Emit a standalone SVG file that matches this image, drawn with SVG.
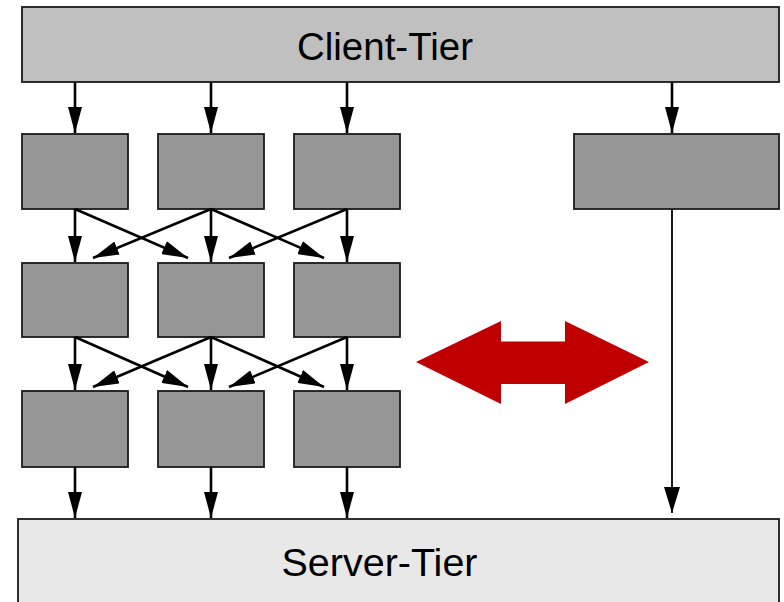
<svg xmlns="http://www.w3.org/2000/svg" width="784" height="602" viewBox="0 0 784 602">
  <style>
    .tier-client { fill: #c0c0c0; stroke: #1a1a1a; stroke-width: 1.8; }
    .tier-server { fill: #e8e8e8; stroke: #1a1a1a; stroke-width: 1.8; }
    .proc { fill: #969696; stroke: #1a1a1a; stroke-width: 1.8; }
    .label { font-family: "Liberation Sans", Arial, sans-serif; fill: #000; text-anchor: middle; }
    .edge { stroke: #000; stroke-width: 2.6; fill: none; marker-end: url(#head); }
    .edge-thin { stroke: #000; stroke-width: 1.8; fill: none; marker-end: url(#head-thin); }
  </style>
  <defs>
    <marker id="head" viewBox="0 0 26 14" refX="26" refY="7" markerWidth="26" markerHeight="14" markerUnits="userSpaceOnUse" orient="auto">
      <path d="M0,0 L26,7 L0,14 Z" fill="#000"/>
    </marker>
    <marker id="head-thin" viewBox="0 0 26 16" refX="26" refY="8" markerWidth="26" markerHeight="16" markerUnits="userSpaceOnUse" orient="auto">
      <path d="M0,0 L26,8 L0,16 Z" fill="#000"/>
    </marker>
  </defs>

  <g id="client-tier">
    <rect class="tier-client" x="22" y="7" width="757" height="75"/>
    <text class="label" x="385" y="60" font-size="38.5">Client-Tier</text>
  </g>

  <g id="server-tier">
    <rect class="tier-server" x="18" y="519" width="761" height="100"/>
    <text class="label" x="379.5" y="576" font-size="39.5">Server-Tier</text>
  </g>

  <g id="p11"><rect class="proc" x="22" y="134" width="106" height="75"/></g>
  <g id="p12"><rect class="proc" x="158" y="134" width="106" height="75"/></g>
  <g id="p13"><rect class="proc" x="294" y="134" width="106" height="75"/></g>
  <g id="p21"><rect class="proc" x="22" y="263" width="106" height="74"/></g>
  <g id="p22"><rect class="proc" x="158" y="263" width="106" height="74"/></g>
  <g id="p23"><rect class="proc" x="294" y="263" width="106" height="74"/></g>
  <g id="p31"><rect class="proc" x="22" y="391" width="106" height="76"/></g>
  <g id="p32"><rect class="proc" x="158" y="391" width="106" height="76"/></g>
  <g id="p33"><rect class="proc" x="294" y="391" width="106" height="76"/></g>
  <g id="p-right"><rect class="proc" x="574" y="134" width="205" height="75"/></g>

  <g id="exchange">
    <path d="M416,362 L501,321 L501,341.5 L565,341.5 L565,321 L649,362 L565,404 L565,384 L501,384 L501,404 Z" fill="#c00000"/>
  </g>

  <g id="connectors">
    <!-- client tier to first row -->
    <line class="edge" x1="75" y1="82" x2="75" y2="133"/>
    <line class="edge" x1="211" y1="82" x2="211" y2="133"/>
    <line class="edge" x1="347" y1="82" x2="347" y2="133"/>
    <line class="edge" x1="672" y1="82" x2="672" y2="133"/>

    <!-- first row to second row -->
    <line class="edge" x1="75" y1="209" x2="75" y2="262"/>
    <line class="edge" x1="211" y1="209" x2="211" y2="262"/>
    <line class="edge" x1="347" y1="209" x2="347" y2="262"/>
    <line class="edge" x1="75" y1="209" x2="188" y2="258"/>
    <line class="edge" x1="211" y1="209" x2="93" y2="258"/>
    <line class="edge" x1="211" y1="209" x2="324" y2="258"/>
    <line class="edge" x1="347" y1="209" x2="229" y2="258"/>

    <!-- second row to third row -->
    <line class="edge" x1="75" y1="337" x2="75" y2="390"/>
    <line class="edge" x1="211" y1="337" x2="211" y2="390"/>
    <line class="edge" x1="347" y1="337" x2="347" y2="390"/>
    <line class="edge" x1="75" y1="337" x2="188" y2="387"/>
    <line class="edge" x1="211" y1="337" x2="93" y2="387"/>
    <line class="edge" x1="211" y1="337" x2="324" y2="387"/>
    <line class="edge" x1="347" y1="337" x2="229" y2="387"/>

    <!-- third row to server tier -->
    <line class="edge" x1="75" y1="467" x2="75" y2="518"/>
    <line class="edge" x1="211" y1="467" x2="211" y2="518"/>
    <line class="edge" x1="347" y1="467" x2="347" y2="518"/>

    <!-- right path straight to server tier -->
    <line class="edge-thin" x1="672" y1="209" x2="672" y2="513"/>
  </g>
</svg>
